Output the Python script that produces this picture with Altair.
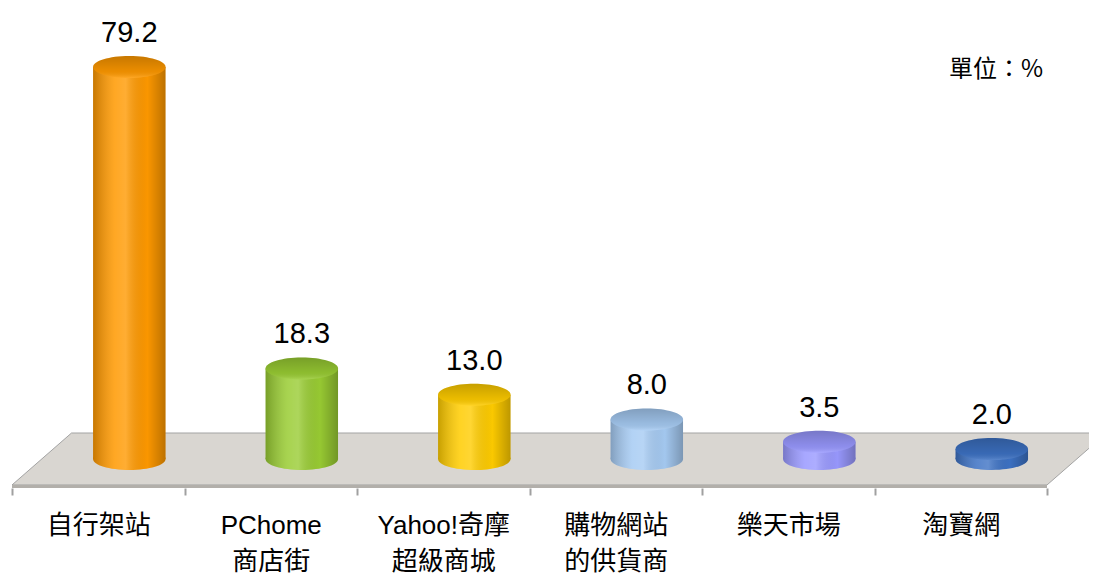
import altair as alt
import pandas as pd

# ---------------- data ----------------
categories = ["自行架站", "PChome|商店街", "Yahoo!奇摩|超級商城", "購物網站|的供貨商", "樂天市場", "淘寶網"]
values = [79.2, 18.3, 13.0, 8.0, 3.5, 2.0]
unit_label = "單位：%"

# ---------------- style ----------------
colors = ["#FF9900", "#99CC33", "#FFCC00", "#A6CBF3", "#9999FF", "#3D72C4"]
W, H = 1035, 480
Y_DOMAIN = [-5.86, 91.11]
BAR_OFFSET = 0.68      # cylinder centre inside its band (3-D depth shift)
BAR_HALF = 0.21        # half cylinder width, in band units
ELLIPSE_W = 72.5       # cylinder width in px (symbol size = W^2)
ELLIPSE_PATH = "M -1 0 A 1 0.303 0 0 1 1 0 A 1 0.303 0 0 1 -1 0 Z"
FLOOR_HALF = 5.25
FLOOR_EDGE = 5.86
FLOOR_SKEW = 0.345
N = len(categories)

df = pd.DataFrame({"cat": categories, "value": values, "idx": list(range(N))})
df["xc"] = df["idx"] + BAR_OFFSET
df["x0"] = df["xc"] - BAR_HALF
df["x1"] = df["xc"] + BAR_HALF
df["zero"] = 0.0
df["label"] = df["value"].map(lambda v: f"{v:.1f}")

floor = pd.DataFrame({"v": [-FLOOR_HALF, FLOOR_HALF], "a": [0, FLOOR_SKEW], "b": [N, N + FLOOR_SKEW]})
edge = pd.DataFrame({"a": [0], "b": [N], "v0": [-FLOOR_HALF], "v1": [-FLOOR_EDGE]})

xs = alt.Scale(domain=[0, N], nice=False, zero=False)
ys = alt.Scale(domain=Y_DOMAIN, nice=False, zero=False)
cs = alt.Scale(domain=categories, range=colors)

GRAD_H = {
    "gradient": "linear", "x1": 0, "x2": 1, "y1": 0, "y2": 0,
    "stops": [
        {"offset": 0.0, "color": "rgba(0,0,0,0.22)"},
        {"offset": 0.3, "color": "rgba(255,255,255,0.14)"},
        {"offset": 0.45, "color": "rgba(255,255,255,0.20)"},
        {"offset": 0.75, "color": "rgba(0,0,0,0.02)"},
        {"offset": 1.0, "color": "rgba(0,0,0,0.26)"},
    ],
}
GRAD_TOP = {
    "gradient": "linear", "x1": 0, "x2": 0, "y1": 0, "y2": 1,
    "stops": [
        {"offset": 0.0, "color": "rgba(0,0,0,0.22)"},
        {"offset": 0.7, "color": "rgba(0,0,0,0.08)"},
        {"offset": 1.0, "color": "rgba(255,255,255,0.15)"},
    ],
}

base = alt.Chart(df)
color_enc = alt.Color("cat:N", scale=cs, legend=None)

floor_area = alt.Chart(floor).mark_area(
    orient="horizontal", fill="#D9D6D1", stroke="#A3A3A3", strokeWidth=1
).encode(
    y=alt.Y("v:Q", scale=ys, axis=None),
    x=alt.X("a:Q", scale=xs, axis=None),
    x2="b:Q",
)
floor_edge = alt.Chart(edge).mark_rect(fill="#B2AFAA").encode(
    x=alt.X("a:Q", scale=xs, axis=None), x2="b:Q",
    y=alt.Y("v0:Q", scale=ys, axis=None), y2="v1:Q",
)

def ellipse(yfield, **kw):
    return base.mark_point(shape=ELLIPSE_PATH, size=ELLIPSE_W ** 2, filled=True,
                           opacity=1, strokeWidth=0, **kw).encode(
        x=alt.X("xc:Q", scale=xs, axis=None),
        y=alt.Y(f"{yfield}:Q", scale=ys, axis=None),
    )

bottom = ellipse("zero").encode(color=color_enc)
bottom_shade = ellipse("zero", fill=GRAD_H)
body = base.mark_rect().encode(
    x=alt.X("x0:Q", scale=xs, axis=None), x2="x1:Q",
    y=alt.Y("zero:Q", scale=ys, axis=None), y2="value:Q",
    color=color_enc,
)
body_shade = base.mark_rect(fill=GRAD_H).encode(
    x=alt.X("x0:Q", scale=xs, axis=None), x2="x1:Q",
    y=alt.Y("zero:Q", scale=ys, axis=None), y2="value:Q",
)
top = ellipse("value").encode(color=color_enc)
top_shade = ellipse("value", fill=GRAD_TOP)

labels = base.mark_text(
    dy=-25, baseline="alphabetic", fontSize=29, color="black",
    font="Liberation Sans",
).encode(
    x=alt.X("xc:Q", scale=xs, axis=None),
    y=alt.Y("value:Q", scale=ys, axis=None),
    text="label:N",
)

axis_layer = base.mark_point(opacity=0).encode(
    x=alt.X(
        "cat:N", sort=categories,
        scale=alt.Scale(type="band", paddingInner=0, paddingOuter=0),
        axis=alt.Axis(
            title=None, domain=False, grid=False, ticks=True, tickBand="extent",
            tickSize=7, tickWidth=2, tickColor="#A0A0A0", labelAngle=0,
            labelFont="Liberation Sans, Noto Sans CJK TC", labelFontSize=26,
            labelColor="black", labelPadding=17, labelLineHeight=36,
            labelOverlap=False, labelBound=False,
            labelExpr="split(datum.label, '|')",
        ),
    ),
)

chart = alt.layer(
    floor_area, floor_edge, bottom, bottom_shade, body, body_shade,
    top, top_shade, labels, axis_layer,
).resolve_scale(x="independent").properties(
    width=W, height=H,
    title=alt.TitleParams(unit_label, anchor="end", orient="top", frame="group",
                          offset=-98, baseline="bottom", dx=-4,
                          font="Noto Sans CJK TC", fontSize=24,
                          fontWeight="normal", color="black"),
    autosize=alt.AutoSizeParams(type="none"),
    padding={"left": 4, "top": 0, "right": 42, "bottom": 89},
).configure(background="white").configure_view(stroke=None)

chart.save("out.html", embed_options={"renderer": "svg", "actions": False})
